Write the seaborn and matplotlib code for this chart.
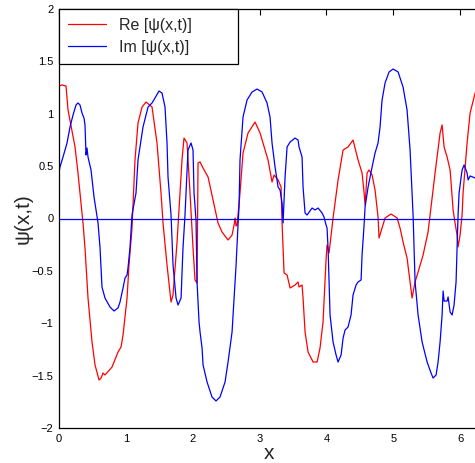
import numpy as np
import pandas as pd
import matplotlib
matplotlib.use("Agg")
import matplotlib.pyplot as plt
import seaborn as sns

re_x = [0.000, 0.045, 0.105, 0.135, 0.240, 0.284, 0.359, 0.389, 0.434, 0.494, 0.539, 0.599, 0.629, 0.658,
        0.688, 0.793, 0.883, 0.928, 0.958, 1.018, 1.047, 1.092, 1.137, 1.182, 1.242, 1.302, 1.392, 1.466,
        1.526, 1.556, 1.616, 1.676, 1.706, 1.766, 1.840, 1.870, 1.915, 1.960, 2.005, 2.035, 2.065, 2.080,
        2.110, 2.155, 2.230, 2.304, 2.379, 2.439, 2.529, 2.589, 2.619, 2.634, 2.649, 2.663, 2.678, 2.708,
        2.753, 2.828, 2.933, 3.008, 3.082, 3.127, 3.187, 3.217, 3.277, 3.322, 3.337, 3.352, 3.367, 3.412,
        3.457, 3.531, 3.576, 3.591, 3.636, 3.651, 3.681, 3.726, 3.801, 3.861, 3.905, 3.950, 3.995, 4.010,
        4.040, 4.100, 4.175, 4.250, 4.324, 4.399, 4.474, 4.534, 4.564, 4.579, 4.609, 4.639, 4.684, 4.728,
        4.773, 4.788, 4.833, 4.878, 4.968, 5.058, 5.102, 5.147, 5.207, 5.252, 5.282, 5.327, 5.372, 5.447,
        5.521, 5.551, 5.626, 5.701, 5.731, 5.761, 5.806, 5.851, 5.896, 5.925, 5.955, 5.970, 6.000, 6.030,
        6.045, 6.105, 6.150, 6.225, 6.283]
re_y = [1.265, 1.275, 1.265, 1.036, 0.683, 0.434, -0.043, -0.282, -0.759, -1.179, -1.398, -1.542, -1.523, -1.475,
        -1.494, -1.418, -1.275, -1.227, -1.112, -0.759, -0.444, -0.091, 0.559, 0.912, 1.064, 1.112, 1.064, 0.721,
        0.244, -0.043, -0.444, -0.797, -0.730, -0.224, 0.559, 0.768, 0.721, 0.244, -0.282, -0.587, -0.616, 0.530,
        0.540, 0.482, 0.396, 0.177, -0.043, -0.129, -0.205, -0.158, -0.062, 0.005, -0.072, -0.062, 0.033, 0.244,
        0.625, 0.816, 0.921, 0.816, 0.654, 0.559, 0.349, 0.415, 0.368, 0.301, -0.043, -0.282, -0.520, -0.539,
        -0.663, -0.635, -0.606, -0.654, -0.635, -0.759, -1.083, -1.275, -1.370, -1.370, -1.236, -0.988, -0.396, -0.253,
        -0.329, 0.005, 0.368, 0.654, 0.683, 0.749, 0.559, 0.434, 0.244, 0.129, 0.434, 0.463, 0.415, 0.272,
        0.014, -0.186, -0.091, 0.005, 0.043, 0.005, -0.091, -0.224, -0.377, -0.606, -0.759, -0.606, -0.511, -0.348,
        -0.129, 0.033, 0.434, 0.816, 0.893, 0.683, 0.587, 0.463, 0.081, -0.043, -0.158, -0.272, -0.158, 0.033,
        0.244, 0.721, 1.007, 1.198, 1.260]

im_x = [0.000, 0.015, 0.060, 0.120, 0.165, 0.210, 0.255, 0.284, 0.314, 0.344, 0.374, 0.389, 0.404, 0.419,
        0.434, 0.479, 0.524, 0.584, 0.614, 0.643, 0.688, 0.763, 0.823, 0.883, 0.913, 0.958, 0.988, 1.018,
        1.032, 1.062, 1.092, 1.152, 1.182, 1.257, 1.332, 1.392, 1.436, 1.496, 1.541, 1.586, 1.616, 1.631,
        1.676, 1.706, 1.751, 1.781, 1.826, 1.855, 1.885, 1.900, 1.930, 1.975, 2.005, 2.020, 2.050, 2.065,
        2.095, 2.110, 2.140, 2.155, 2.215, 2.289, 2.349, 2.409, 2.484, 2.529, 2.589, 2.619, 2.649, 2.678,
        2.693, 2.708, 2.753, 2.813, 2.888, 2.963, 3.038, 3.112, 3.157, 3.187, 3.232, 3.277, 3.307, 3.337,
        3.352, 3.382, 3.412, 3.457, 3.531, 3.576, 3.591, 3.636, 3.651, 3.681, 3.711, 3.786, 3.831, 3.876,
        3.935, 3.965, 3.995, 4.010, 4.025, 4.040, 4.055, 4.100, 4.145, 4.175, 4.220, 4.250, 4.280, 4.324,
        4.369, 4.399, 4.444, 4.474, 4.519, 4.534, 4.564, 4.579, 4.624, 4.684, 4.728, 4.773, 4.803, 4.833,
        4.878, 4.938, 4.998, 5.073, 5.147, 5.207, 5.252, 5.297, 5.327, 5.372, 5.432, 5.507, 5.566, 5.596,
        5.641, 5.671, 5.701, 5.731, 5.746, 5.761, 5.806, 5.821, 5.851, 5.881, 5.910, 5.940, 5.955, 5.970,
        5.985, 6.030, 6.060, 6.105, 6.120, 6.150, 6.225, 6.283]
im_y = [0.444, 0.492, 0.587, 0.721, 0.874, 0.988, 1.084, 1.103, 1.084, 1.007, 0.959, 0.893, 0.606, 0.673,
        0.587, 0.463, 0.205, -0.043, -0.282, -0.654, -0.759, -0.845, -0.883, -0.854, -0.797, -0.663, -0.568, -0.539,
        -0.473, -0.282, 0.033, 0.244, 0.559, 0.874, 1.064, 1.103, 1.150, 1.217, 1.198, 1.064, 0.721, 0.396,
        0.033, -0.444, -0.759, -0.826, -0.759, -0.282, 0.033, 0.244, 0.654, 0.721, 0.654, 0.244, -0.014, -0.606,
        -0.988, -1.083, -1.236, -1.398, -1.561, -1.704, -1.742, -1.704, -1.561, -1.370, -1.083, -0.759, -0.444, -0.062,
        0.110, 0.559, 0.969, 1.131, 1.208, 1.236, 1.208, 1.103, 0.969, 0.721, 0.492, 0.301, 0.272, 0.148,
        -0.043, 0.396, 0.683, 0.730, 0.768, 0.749, 0.683, 0.587, 0.301, 0.053, 0.033, 0.100, 0.081, 0.100,
        0.053, 0.014, -0.062, -0.091, -0.282, -0.606, -0.921, -1.179, -1.303, -1.370, -1.303, -1.141, -1.064, -1.036,
        -0.921, -0.730, -0.635, -0.606, -0.587, -0.348, -0.062, 0.110, 0.301, 0.492, 0.625, 0.721, 0.874, 1.131,
        1.294, 1.399, 1.427, 1.399, 1.255, 1.036, 0.654, 0.033, -0.606, -0.921, -1.179, -1.370, -1.475, -1.523,
        -1.494, -1.370, -1.179, -0.921, -0.692, -0.788, -0.788, -0.749, -0.893, -0.921, -0.826, -0.606, -0.282, 0.033,
        0.244, 0.463, 0.511, 0.434, 0.368, 0.406, 0.387, 0.387]

x_ticks = [0, 1, 2, 3, 4, 5, 6]
y_ticks = [-2, -1.5, -1, -0.5, 0, 0.5, 1, 1.5, 2]
y_tick_labels = ["\u22122", "\u22121.5", "\u22121", "\u22120.5", "0", "0.5", "1", "1.5", "2"]
legend_labels = ["Re [\u03c8(x,t)]", "Im [\u03c8(x,t)]"]

sns.set_style("white")
plt.rcParams['font.family'] = ['Liberation Sans', 'DejaVu Sans']

fig = plt.figure(figsize=(4.75, 4.63), dpi=100)
ax = fig.add_axes([59 / 475, 35 / 463, 420 / 475, 419 / 463])

df_re = pd.DataFrame({"x": re_x, "y": re_y})
df_im = pd.DataFrame({"x": im_x, "y": im_y})
sns.lineplot(data=df_re, x="x", y="y", ax=ax, color=(1, 0, 0), lw=0.9, sort=False,
             estimator=None, label=legend_labels[0])
sns.lineplot(data=df_im, x="x", y="y", ax=ax, color=(0, 0, 1), lw=0.9, sort=False,
             estimator=None, label=legend_labels[1])
ax.axhline(0, color=(0, 0, 1), lw=0.9)

ax.set_xlim(0, 2 * np.pi)
ax.set_ylim(-2, 2)
ax.set_xticks(x_ticks)
ax.set_xticklabels([str(t) for t in x_ticks])
ax.set_yticks(y_ticks)
ax.set_yticklabels(y_tick_labels)
ax.tick_params(direction="in", length=4, width=0.8, labelsize=8, top=True, right=False,
               colors="black", pad=4)
for s in ax.spines.values():
    s.set_color("black")
    s.set_linewidth(0.9)

ax.set_xlabel("x", fontsize=15, labelpad=0)
ax.set_ylabel("\u03c8(x,t)", fontsize=15, labelpad=-0.5)

leg = ax.legend(loc="upper left", bbox_to_anchor=(0, 0, 179 / 420, 1), mode="expand",
                borderaxespad=0, fancybox=False, frameon=True,
                edgecolor="black", framealpha=1, fontsize=11.5, handlelength=2.4,
                handletextpad=0.8, borderpad=0.55, labelspacing=0.45)
leg.get_frame().set_linewidth(0.9)

fig.savefig("out.png", dpi=100)
